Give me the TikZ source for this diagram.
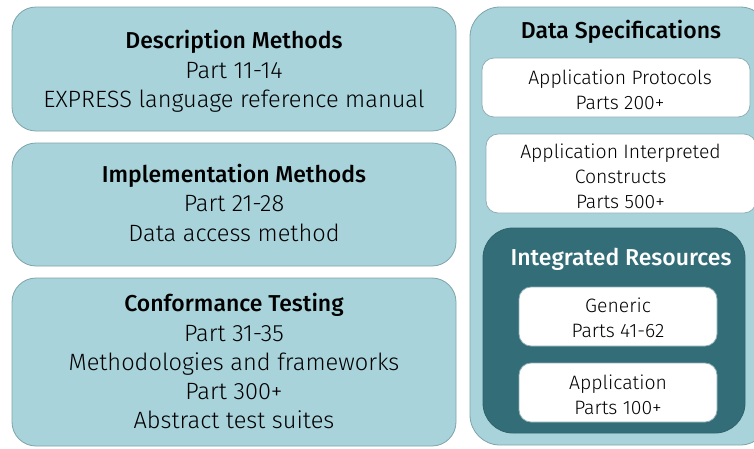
\documentclass[tikz,border=0pt]{standalone}
\usepackage{fontspec}
\setmainfont{Fira Sans Light}[BoldFont={Fira Sans Medium}]
\usetikzlibrary{positioning}
\definecolor{paneFill}{HTML}{A9D3DB}
\definecolor{paneLine}{HTML}{7DA3AA}
\definecolor{deepTeal}{HTML}{336E78}
\definecolor{cardLine}{HTML}{8FAFB5}
\newcommand{\headline}[1]{{\fontsize{23}{29}\selectfont\bfseries #1}}
\tikzset{
  pane/.style={draw=paneLine, line width=0.8pt, fill=paneFill, rounded corners=24pt, inner sep=0pt},
  card/.style={draw=cardLine, line width=0.8pt, fill=white, rounded corners=12pt, inner sep=0pt},
  core/.style={draw=deepTeal!90!black, line width=0.8pt, fill=deepTeal, rounded corners=30pt, inner sep=0pt},
  bigtext/.style={align=center, text=black, yshift=-1.8pt, font=\fontsize{23.6}{29.3}\selectfont},
  smalltext/.style={align=center, text=black, yshift=-1pt, font=\fontsize{19.4}{25}\selectfont},
}
\begin{document}
\begin{tikzpicture}[x=1pt,y=-1pt]
\useasboundingbox (0,0) rectangle (754,448);
\begin{scope}
\clip (0,0) rectangle (754,448);
% left column
\node[pane, minimum width=444pt, minimum height=124pt] (desc) at (234,69) {};
\node[pane, minimum width=444pt, minimum height=123pt] (impl) at (234,204.5) {};
\node[pane, minimum width=444pt, minimum height=168pt] (conf) at (234,362) {};
\node[bigtext] (descT) at (234,69.5) {\headline{Description Methods}\\Part 11-14\\EXPRESS language reference manual};
\node[bigtext] (implT) at (234,201) {\headline{Implementation Methods}\\Part 21-28\\Data access method};
\node[bigtext] (confT) at (234,359.5) {\headline{Conformance Testing}\\Part 31-35\\Methodologies and frameworks\\Part 300+\\Abstract test suites};
% right column
\node[pane, rounded corners=30pt, minimum width=300pt, minimum height=438pt] (data) at (620,226) {};
\node[bigtext] (dataT) at (621,30) {\headline{Data Specifications}};
\node[card, minimum width=268pt, minimum height=59pt] (ap) at (616,87.5) {};
\node[smalltext] (apT) at (620,88.5) {Application Protocols\\Parts 200+};
\node[card, minimum width=270pt, minimum height=79pt] (aic) at (621,173.5) {};
\node[smalltext] (aicT) at (620.5,175) {Application Interpreted\\Constructs\\Parts 500+};
\node[core, minimum width=262pt, minimum height=205pt] (ir) at (614,330.5) {};
\node[bigtext, text=white] (irT) at (621,258) {\headline{Integrated Resources}};
\node[card, minimum width=198pt, minimum height=59pt] (gen) at (618,316.5) {};
\node[smalltext] (genT) at (618,316.5) {Generic\\Parts 41-62};
\node[card, minimum width=198pt, minimum height=59pt] (app) at (618,392.5) {};
\node[smalltext] (appT) at (618,393.5) {Application\\Parts 100+};
\end{scope}
\end{tikzpicture}
\end{document}
